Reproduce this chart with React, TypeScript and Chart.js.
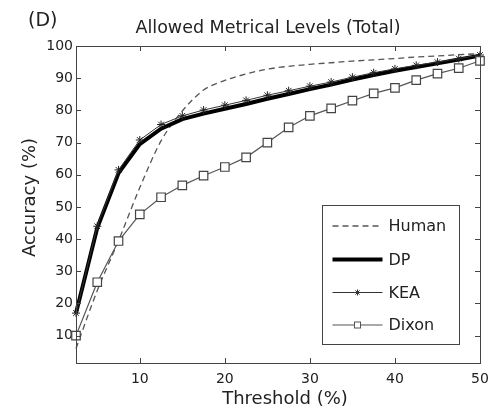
import React, { useEffect, useRef } from "react";
import { Chart, registerables } from "chart.js";

Chart.register(...registerables);

const thresholds = [2.5, 5, 7.5, 10, 12.5, 15, 17.5, 20, 22.5, 25, 27.5, 30, 32.5, 35, 37.5, 40, 42.5, 45, 47.5, 50];
const human = [6, 24, 39.5, 56, 70.5, 79.8, 86.3, 89.3, 91.3, 92.8, 93.7, 94.3, 94.8, 95.3, 95.7, 96.1, 96.6, 96.9, 97.3, 97.6];
const dp = [17, 43.5, 60.5, 69.5, 74.3, 77.3, 79.0, 80.5, 82.0, 83.6, 85.1, 86.6, 88.0, 89.6, 91.0, 92.3, 93.5, 94.6, 95.8, 97.0];
const kea = [17, 44, 61.5, 70.8, 75.6, 78.3, 80.1, 81.6, 83.1, 84.7, 86.1, 87.5, 88.8, 90.3, 91.7, 92.9, 94.0, 95.0, 96.1, 97.2];
const dixon = [10, 26.6, 39.4, 47.7, 53.0, 56.7, 59.7, 62.4, 65.4, 70.0, 74.7, 78.3, 80.6, 83.0, 85.3, 87.0, 89.4, 91.4, 93.1, 95.4];

const seriesNames = ["Human", "DP", "KEA", "Dixon"];
const xTickValues = [10, 20, 30, 40, 50];
const yTickValues = [10, 20, 30, 40, 50, 60, 70, 80, 90, 100];

const chartTitle = "Allowed Metrical Levels (Total)";
const panelLabel = "(D)";
const xTitle = "Threshold (%)";
const yTitle = "Accuracy (%)";

const FONT = "'DejaVu Sans', sans-serif";
const AXIS = "#444";
const TEXT = "#222";

const pts = (ys: number[]) => thresholds.map((x, i) => ({ x, y: ys[i] }));

const decorPlugin = {
  id: "decor",
  afterDraw(chart: any) {
    const { ctx, chartArea: a, scales } = chart;
    const xs = scales.x;
    const ys = scales.y;
    ctx.save();
    // frame
    ctx.strokeStyle = AXIS;
    ctx.lineWidth = 1;
    ctx.strokeRect(a.left + 0.5, a.top + 0.5, a.right - a.left, a.bottom - a.top);
    // inside tick marks
    const tl = 5;
    ctx.beginPath();
    xTickValues.forEach((v) => {
      const px = Math.round(xs.getPixelForValue(v)) + 0.5;
      ctx.moveTo(px, a.bottom);
      ctx.lineTo(px, a.bottom - tl);
      ctx.moveTo(px, a.top);
      ctx.lineTo(px, a.top + tl);
    });
    yTickValues.forEach((v) => {
      const py = Math.round(ys.getPixelForValue(v)) + 0.5;
      ctx.moveTo(a.left, py);
      ctx.lineTo(a.left + tl, py);
      ctx.moveTo(a.right, py);
      ctx.lineTo(a.right - tl, py);
    });
    ctx.stroke();

    // titles
    ctx.fillStyle = TEXT;
    ctx.textBaseline = "alphabetic";
    ctx.font = `17.5px ${FONT}`;
    ctx.textAlign = "center";
    ctx.fillText(chartTitle, 268, 33);
    ctx.font = `19px ${FONT}`;
    ctx.textAlign = "left";
    ctx.fillText(panelLabel, 28, 26);
    ctx.font = `18px ${FONT}`;
    ctx.textAlign = "center";
    ctx.fillText(xTitle, 285, 404);
    ctx.save();
    ctx.translate(35, 197.5);
    ctx.rotate(-Math.PI / 2);
    ctx.fillText(yTitle, 0, 0);
    ctx.restore();

    // legend
    const bx = a.left + 246.5;
    const by = 205.5;
    const bw = 137;
    const bh = 139;
    ctx.fillStyle = "#fff";
    ctx.fillRect(bx, by, bw, bh);
    ctx.strokeStyle = AXIS;
    ctx.lineWidth = 1;
    ctx.strokeRect(bx, by, bw, bh);
    const rowY = [226, 259.5, 292.5, 325];
    const x0 = bx + 10;
    const x1 = bx + 60;
    const xm = (x0 + x1) / 2;
    chart.data.datasets.forEach((ds: any, i: number) => {
      const yy = rowY[i];
      ctx.save();
      ctx.strokeStyle = ds.borderColor;
      ctx.lineWidth = ds.borderWidth;
      ctx.setLineDash(ds.borderDash || []);
      ctx.beginPath();
      ctx.moveTo(x0, yy);
      ctx.lineTo(x1, yy);
      ctx.stroke();
      ctx.setLineDash([]);
      ctx.lineWidth = 1;
      if (ds.pointStyle === "star") {
        const r = 3;
        ctx.beginPath();
        ctx.moveTo(xm - r, yy); ctx.lineTo(xm + r, yy);
        ctx.moveTo(xm, yy - r); ctx.lineTo(xm, yy + r);
        ctx.moveTo(xm - r * 0.7, yy - r * 0.7); ctx.lineTo(xm + r * 0.7, yy + r * 0.7);
        ctx.moveTo(xm - r * 0.7, yy + r * 0.7); ctx.lineTo(xm + r * 0.7, yy - r * 0.7);
        ctx.stroke();
      } else if (ds.pointStyle === "rect") {
        ctx.fillStyle = "#fff";
        ctx.fillRect(xm - 3, yy - 3, 6, 6);
        ctx.strokeRect(xm - 3, yy - 3, 6, 6);
      }
      ctx.fillStyle = TEXT;
      ctx.font = `16px ${FONT}`;
      ctx.textAlign = "left";
      ctx.textBaseline = "middle";
      ctx.fillText(ds.label, bx + 66, yy + 1);
      ctx.restore();
    });
    ctx.restore();
  },
};

export default function App() {
  const ref = useRef<HTMLCanvasElement | null>(null);
  useEffect(() => {
    if (!ref.current) return;
    const chart = new Chart(ref.current, {
      type: "line",
      data: {
        datasets: [
          {
            label: seriesNames[0],
            data: pts(human),
            borderColor: "#555",
            borderWidth: 1.3,
            borderDash: [6, 4],
            pointRadius: 0,
            cubicInterpolationMode: "monotone",
            fill: false,
            order: 4,
          },
          {
            label: seriesNames[1],
            data: pts(dp),
            borderColor: "#000",
            borderWidth: 4,
            pointRadius: 0,
            fill: false,
            order: 3,
          },
          {
            label: seriesNames[2],
            data: pts(kea),
            borderColor: "#333",
            borderWidth: 1,
            pointStyle: "star",
            pointRadius: 4,
            pointBorderColor: "#222",
            pointBorderWidth: 1,
            fill: false,
            order: 2,
          },
          {
            label: seriesNames[3],
            data: pts(dixon),
            borderColor: "#555",
            borderWidth: 1.2,
            pointStyle: "rect",
            pointRadius: 6,
            pointBackgroundColor: "#fff",
            pointBorderColor: "#444",
            pointBorderWidth: 1.2,
            fill: false,
            order: 1,
          },
        ] as any,
      },
      options: {
        animation: false,
        responsive: false,
        maintainAspectRatio: false,
        layout: { padding: { top: 46, right: 18, left: 0, bottom: 0 } },
        plugins: {
          legend: { display: false },
          title: { display: false },
          tooltip: { enabled: false },
        },
        elements: { line: { tension: 0 } },
        datasets: { line: { clip: false } as any },
        scales: {
          x: {
            type: "linear",
            min: 2.5,
            max: 50,
            grid: { display: false, drawTicks: false },
            border: { display: false },
            afterBuildTicks: (s: any) => {
              s.ticks = xTickValues.map((v) => ({ value: v }));
            },
            afterFit: (s: any) => {
              s.height = 45;
            },
            ticks: {
              color: TEXT,
              font: { family: FONT, size: 14 },
              padding: 8,
              maxRotation: 0,
              callback: (v: any) => String(v),
            },
          },
          y: {
            type: "linear",
            min: 1.5,
            max: 100,
            grid: { display: false, drawTicks: false },
            border: { display: false },
            afterBuildTicks: (s: any) => {
              s.ticks = yTickValues.map((v) => ({ value: v }));
            },
            afterFit: (s: any) => {
              s.width = 76;
            },
            ticks: {
              color: TEXT,
              font: { family: FONT, size: 14 },
              padding: 3,
              callback: (v: any) => String(v),
            },
          },
        },
      },
      plugins: [decorPlugin],
    });
    return () => chart.destroy();
  }, []);
  return (
    <div style={{ position: "fixed", left: 0, top: 0, width: 498, height: 408, background: "#fff" }}>
      <canvas ref={ref} width={498} height={408} style={{ width: 498, height: 408 }} />
    </div>
  );
}
